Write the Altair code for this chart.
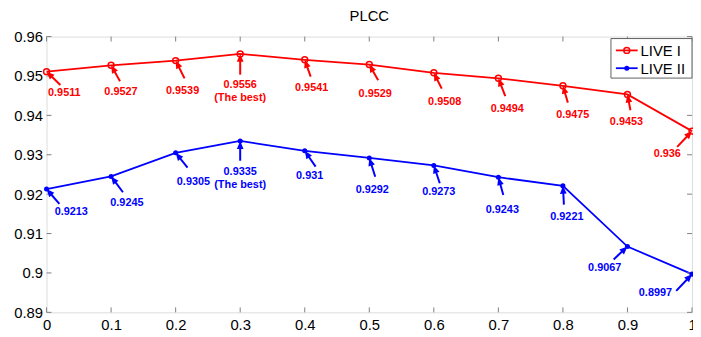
import math
import altair as alt
import pandas as pd

# ---- data ----
x_vals = [0.0, 0.1, 0.2, 0.3, 0.4, 0.5, 0.6, 0.7, 0.8, 0.9, 1.0]
live1 = [0.9511, 0.9527, 0.9539, 0.9556, 0.9541, 0.9529, 0.9508, 0.9494, 0.9475, 0.9453, 0.936]
live2 = [0.9213, 0.9245, 0.9305, 0.9335, 0.931, 0.9292, 0.9273, 0.9243, 0.9221, 0.9067, 0.8997]
series_names = ["LIVE I", "LIVE II"]
best_note = "(The best)"
y_ticks = [0.89, 0.90, 0.91, 0.92, 0.93, 0.94, 0.95, 0.96]
x_ticks = [0.0, 0.1, 0.2, 0.3, 0.4, 0.5, 0.6, 0.7, 0.8, 0.9, 1.0]

# ---- style: pixel offsets of annotation text and arrow tails from each point ----
text_off = {
    "LIVE I": [(18, 22), (10, 27), (7, 31), (0, 31), (7, 29), (6, 30), (11, 30), (9, 31), (10, 30), (-1, 28), (-25, 23)],
    "LIVE II": [(25, 23), (16, 27), (18, 30), (0, 31), (5, 26), (3, 33), (5, 27), (4, 33), (4, 32), (-23, 22), (-37, 19)],
}
tail_off = {
    "LIVE I": [(14, 13.5), (9, 16), (9, 18), (0, 21), (6, 17), (9, 16), (8, 16), (7, 18), (5, 17), (3, 16), (-15, 16)],
    "LIVE II": [(13, 15), (12, 16), (12, 15), (0, 20), (11, 16), (6, 19), (6, 18), (5, 18), (1, 19), (-14, 13), (-16, 17)],
}
colors = ["#ff0000", "#0000ff"]

W, H = 653, 279
XD = (0.0, 1.0)
YD = (0.89, 0.96)
px_x = (XD[1] - XD[0]) / W
px_y = (YD[1] - YD[0]) / H

line_rows, label_rows, arrow_rows = [], [], []
for name, vals in zip(series_names, [live1, live2]):
    best = max(range(len(vals)), key=lambda k: vals[k])
    for i, (xv, yv) in enumerate(zip(x_vals, vals)):
        line_rows.append({"series": name, "x": xv, "y": yv})
        dx, dy = text_off[name][i]
        label_rows.append({"series": name, "x": xv + dx * px_x, "y": yv - dy * px_y,
                           "label": f"{yv:g}"})
        if i == best:
            label_rows.append({"series": name, "x": xv + dx * px_x, "y": yv - (dy + 14) * px_y,
                               "label": best_note})
        tx, ty = tail_off[name][i]
        L = math.hypot(tx, ty)
        ux, uy = tx / L, ty / L
        ang = math.degrees(math.atan2(-tx, ty)) % 360
        arrow_rows.append({"series": name,
                           "ax": xv + tx * px_x, "ay": yv - ty * px_y,
                           "bx": xv + ux * 6 * px_x, "by": yv - uy * 6 * px_y,
                           "px": xv, "py": yv, "ang": ang})

lines_df = pd.DataFrame(line_rows)
labels_df = pd.DataFrame(label_rows)
arrows_df = pd.DataFrame(arrow_rows)
yt_df = pd.DataFrame({"v": y_ticks})
xt_df = pd.DataFrame({"v": x_ticks})

FONT = "Liberation Sans"
xs = alt.Scale(domain=list(XD), nice=False, zero=False)
ys = alt.Scale(domain=list(YD), nice=False, zero=False)
cs = alt.Scale(domain=series_names, range=colors)

x_axis = alt.Axis(values=x_ticks, labelExpr="format(datum.value, '.1~f')", ticks=False, domain=False,
                  grid=False, labelFont=FONT, labelFontSize=15, labelColor="#000", labelPadding=5,
                  title=None, labelFlush=False, labelOverlap=False)
y_axis = alt.Axis(values=y_ticks, labelExpr="format(datum.value, '.2~f')", ticks=False, domain=False,
                  grid=False, labelFont=FONT, labelFontSize=15, labelColor="#000", labelPadding=4,
                  title=None, labelOverlap=False)


def X(f):
    return alt.X(f, type="quantitative", scale=xs, axis=x_axis)


def Y(f):
    return alt.Y(f, type="quantitative", scale=ys, axis=y_axis)


COL = alt.Color("series:N", scale=cs, legend=None)

lines = alt.Chart(lines_df).mark_line(strokeWidth=1.8).encode(
    x=X("x"), y=Y("y"), color=COL, detail="series:N")
pts1 = alt.Chart(lines_df[lines_df.series == "LIVE I"]).mark_point(
    shape="circle", filled=False, size=36, strokeWidth=1.5, opacity=1).encode(
    x=X("x"), y=Y("y"), color=COL)
pts2 = alt.Chart(lines_df[lines_df.series == "LIVE II"]).mark_circle(size=26, opacity=1).encode(
    x=X("x"), y=Y("y"), color=COL)

arrow_lines = alt.Chart(arrows_df).mark_rule(strokeWidth=2, strokeCap="butt").encode(
    x=X("ax"), x2="bx:Q", y=Y("ay"), y2="by:Q", color=COL)
arrow_heads = alt.Chart(arrows_df).mark_point(
    shape="M0,0 L-0.85,2 L0.85,2 Z", filled=True, size=64, opacity=1, strokeWidth=0).encode(
    x=X("px"), y=Y("py"), angle=alt.Angle("ang:Q", scale=None), color=COL)

labels = alt.Chart(labels_df).mark_text(font=FONT, fontSize=11, fontWeight="bold",
                                        align="center", baseline="middle").encode(
    x=X("x"), y=Y("y"), text="label:N", color=COL)

TICK = "#808080"
yt_left = alt.Chart(yt_df).mark_rule(color=TICK, strokeWidth=1).encode(
    y=Y("v"), x=alt.value(0), x2=alt.value(5))
yt_right = alt.Chart(yt_df).mark_rule(color=TICK, strokeWidth=1).encode(
    y=Y("v"), x=alt.value(W - 5), x2=alt.value(W))
xt_bottom = alt.Chart(xt_df).mark_rule(color=TICK, strokeWidth=1).encode(
    x=X("v"), y=alt.value(H), y2=alt.value(H - 5))
xt_top = alt.Chart(xt_df).mark_rule(color=TICK, strokeWidth=1).encode(
    x=X("v"), y=alt.value(0), y2=alt.value(5))

# ---- legend (drawn manually, Matlab style) ----
leg_box = alt.Chart(pd.DataFrame({"a": [0]})).mark_rect(
    fill="white", stroke="#606060", strokeWidth=1).encode(
    x=alt.value(571), x2=alt.value(W), y=alt.value(2), y2=alt.value(42))
leg_rows = []
for k, name in enumerate(series_names):
    ch = alt.Chart(pd.DataFrame({"series": [name]}))
    yk = 14 + 18 * k
    leg_rows.append(ch.mark_rule(strokeWidth=1.8).encode(
        x=alt.value(576), x2=alt.value(598), y=alt.value(yk), color=COL))
    if k == 0:
        leg_rows.append(ch.mark_point(shape="circle", filled=False, size=36, strokeWidth=1.5, opacity=1).encode(
            x=alt.value(587), y=alt.value(yk), color=COL))
    else:
        leg_rows.append(ch.mark_circle(size=26, opacity=1).encode(
            x=alt.value(587), y=alt.value(yk), color=COL))
    leg_rows.append(ch.mark_text(font=FONT, fontSize=15, align="left", baseline="middle", color="#000").encode(
        x=alt.value(601), y=alt.value(yk + 1), text="series:N"))

chart = alt.layer(
    lines, yt_left, yt_right, xt_bottom, xt_top,
    arrow_lines, arrow_heads, pts1, pts2, labels,
    leg_box, *leg_rows,
).properties(
    width=W, height=H,
    title=alt.TitleParams("PLCC", font=FONT, fontSize=15, fontWeight="normal",
                          anchor="middle", offset=6, color="#000"),
    autosize=alt.AutoSizeParams(type="none"),
    padding={"left": 39, "top": 27, "right": 1, "bottom": 20},
).configure_view(stroke="#808080", strokeWidth=1.2).configure(background="white")

chart.save("out.html", embed_options={"renderer": "svg", "actions": False})
